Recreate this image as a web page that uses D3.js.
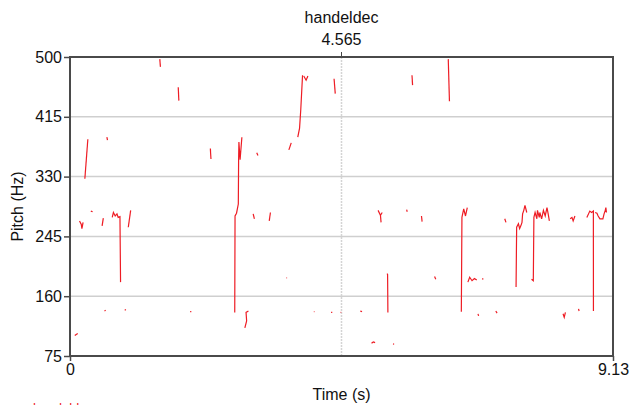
<!DOCTYPE html>
<html>
<head>
<meta charset="utf-8">
<script src="https://cdn.jsdelivr.net/npm/d3@7"></script>
<style>
  body { margin: 0; background: #fff; }
  svg text { font-family: "Liberation Sans", Arial, sans-serif; }
</style>
</head>
<body>
<div id="chart"></div>
<script>
// Pitch track: each segment is a list of [time (s), pitch (Hz)]
const soundName = "handeldec";
const cursorTime = 4.565;
const timeDomain = [0, 9.13];
const pitchDomain = [75, 500];
const pitchTicks = [75, 160, 245, 330, 415, 500];
const timeTicks = [0, 9.13];

const pitchSegments = [
    [[0.08, 104], [0.13, 107]],
    [[0.16, 267], [0.19, 262], [0.20, 256], [0.22, 265]],
    [[0.25, 327], [0.30, 383]],
    [[0.35, 281], [0.38, 280]],
    [[0.54, 260], [0.56, 271]],
    [[0.58, 139], [0.60, 140]],
    [[0.62, 386], [0.63, 382]],
    [[0.71, 272], [0.73, 279], [0.76, 274], [0.79, 277], [0.81, 272], [0.84, 273], [0.85, 180]],
    [[0.92, 140], [0.94, 141]],
    [[0.98, 258], [1.02, 282]],
    [[1.51, 497], [1.52, 486]],
    [[1.82, 457], [1.83, 438]],
    [[2.02, 138], [2.04, 138]],
    [[2.36, 370], [2.37, 355]],
    [[2.77, 137], [2.775, 274], [2.80, 278], [2.83, 291], [2.835, 354], [2.84, 379], [2.86, 354], [2.89, 386]],
    [[2.94, 115], [2.97, 125], [2.96, 137], [3.00, 139]],
    [[3.08, 277], [3.10, 270]],
    [[3.14, 364], [3.16, 360]],
    [[3.35, 267], [3.37, 279]],
    [[3.64, 186], [3.65, 186]],
    [[3.68, 368], [3.72, 378]],
    [[3.83, 386], [3.86, 399], [3.88, 425], [3.91, 474]],
    [[3.93, 473], [3.97, 467], [4.00, 473]],
    [[4.10, 138], [4.11, 138]],
    [[4.39, 137], [4.41, 137]],
    [[4.44, 469], [4.46, 448]],
    [[4.55, 137], [4.56, 137]],
    [[4.88, 139], [4.91, 138]],
    [[5.07, 93], [5.10, 95], [5.13, 94]],
    [[5.18, 282], [5.22, 275], [5.25, 279]],
    [[5.22, 275], [5.23, 265]],
    [[5.33, 192], [5.34, 191], [5.345, 137]],
    [[5.43, 92], [5.45, 92]],
    [[5.66, 283], [5.67, 280]],
    [[5.75, 474], [5.76, 460]],
    [[5.91, 274], [5.92, 266]],
    [[6.13, 188], [6.15, 184]],
    [[6.36, 497], [6.38, 437]],
    [[6.58, 138], [6.59, 272], [6.62, 284], [6.65, 274], [6.68, 286]],
    [[6.69, 180], [6.72, 187], [6.76, 182], [6.80, 185], [6.84, 183]],
    [[6.86, 135], [6.87, 132]],
    [[6.93, 185], [6.95, 184]],
    [[7.16, 139], [7.18, 136]],
    [[7.31, 270], [7.33, 265]],
    [[7.50, 173], [7.51, 258], [7.54, 263], [7.56, 256], [7.58, 260], [7.60, 265], [7.61, 277], [7.63, 282], [7.65, 289], [7.68, 279]],
    [[7.76, 184], [7.79, 182], [7.80, 272], [7.82, 279], [7.85, 270], [7.86, 282], [7.89, 272], [7.90, 279], [7.93, 270], [7.96, 282], [7.99, 274], [8.02, 286], [8.04, 277], [8.06, 267]],
    [[8.29, 135], [8.31, 130], [8.33, 137]],
    [[8.41, 270], [8.44, 272], [8.46, 267], [8.49, 274]],
    [[8.55, 142], [8.56, 139]],
    [[8.69, 272], [8.74, 281], [8.77, 279], [8.80, 281], [8.801, 139]],
    [[8.83, 279], [8.86, 278], [8.88, 274], [8.91, 270], [8.96, 270], [8.98, 277], [9.00, 282], [9.01, 286], [9.02, 279]]
];

const width = 630, height = 405;
const margin = { top: 57, right: 17, bottom: 49, left: 70 };

const svg = d3.select("#chart").append("svg")
    .attr("width", width)
    .attr("height", height);

const x = d3.scaleLinear().domain(timeDomain).range([margin.left, width - margin.right]);
const y = d3.scaleLinear().domain(pitchDomain).range([height - margin.bottom, margin.top]);

// grid lines (inner ticks only)
svg.append("g")
    .selectAll("line")
    .data(pitchTicks.slice(1, -1))
    .join("line")
    .attr("x1", x.range()[0])
    .attr("x2", x.range()[1])
    .attr("y1", d => y(d))
    .attr("y2", d => y(d))
    .attr("stroke", "#cfcfcf")
    .attr("stroke-width", 1.5);

// cursor line
svg.append("line")
    .attr("x1", x(cursorTime)).attr("x2", x(cursorTime))
    .attr("y1", y.range()[1]).attr("y2", y.range()[0])
    .attr("stroke", "#d4d4d4")
    .attr("stroke-width", 1.5)
    .attr("stroke-dasharray", "2,1");
svg.append("line")
    .attr("x1", x(cursorTime)).attr("x2", x(cursorTime))
    .attr("y1", y.range()[1] - 5).attr("y2", y.range()[1])
    .attr("stroke", "#444");

// pitch track
const line = d3.line().x(d => x(d[0])).y(d => y(d[1]));
svg.append("g")
    .selectAll("path")
    .data(pitchSegments)
    .join("path")
    .attr("d", line)
    .attr("fill", "none")
    .attr("stroke", "#ee1c24")
    .attr("stroke-width", 1.2);

// frame
svg.append("rect")
    .attr("x", x.range()[0])
    .attr("y", y.range()[1])
    .attr("width", x.range()[1] - x.range()[0])
    .attr("height", y.range()[0] - y.range()[1])
    .attr("fill", "none")
    .attr("stroke", "#4a4a4a")
    .attr("stroke-width", 2);

// y axis
const yAxis = svg.append("g")
    .attr("transform", `translate(${margin.left},0)`)
    .call(d3.axisLeft(y).tickValues(pitchTicks).tickSize(6).tickPadding(2));
yAxis.select(".domain").remove();
yAxis.selectAll("line").attr("stroke", "#4a4a4a").attr("stroke-width", 1.5);
yAxis.selectAll("text").attr("font-size", 16).attr("fill", "#111")
    .attr("font-family", "'Liberation Sans', Arial, sans-serif");

// x axis
const xAxis = svg.append("g")
    .attr("transform", `translate(0,${height - margin.bottom})`)
    .call(d3.axisBottom(x).tickValues(timeTicks).tickFormat(d => d).tickSize(5).tickPadding(3));
xAxis.select(".domain").remove();
xAxis.selectAll("line").attr("stroke", "#4a4a4a").attr("stroke-width", 1.5);
xAxis.selectAll("text").attr("font-size", 16).attr("fill", "#111")
    .attr("font-family", "'Liberation Sans', Arial, sans-serif");

// titles
svg.append("text")
    .attr("x", x(cursorTime)).attr("y", 23)
    .attr("text-anchor", "middle")
    .attr("font-size", 16).attr("fill", "#111")
    .text(soundName);
svg.append("text")
    .attr("x", x(cursorTime)).attr("y", 45)
    .attr("text-anchor", "middle")
    .attr("font-size", 16).attr("fill", "#111")
    .text(cursorTime);

svg.append("text")
    .attr("transform", `translate(23,${(y.range()[0] + y.range()[1]) / 2}) rotate(-90)`)
    .attr("text-anchor", "middle")
    .attr("font-size", 16).attr("fill", "#111")
    .text("Pitch (Hz)");
svg.append("text")
    .attr("x", (x.range()[0] + x.range()[1]) / 2).attr("y", 400)
    .attr("text-anchor", "middle")
    .attr("font-size", 16).attr("fill", "#111")
    .text("Time (s)");

// cut-off label at the very bottom
svg.append("text")
    .attr("x", 33).attr("y", 412)
    .attr("font-size", 13).attr("fill", "#ee1c24")
    .text(soundName);
</script>
</body>
</html>
